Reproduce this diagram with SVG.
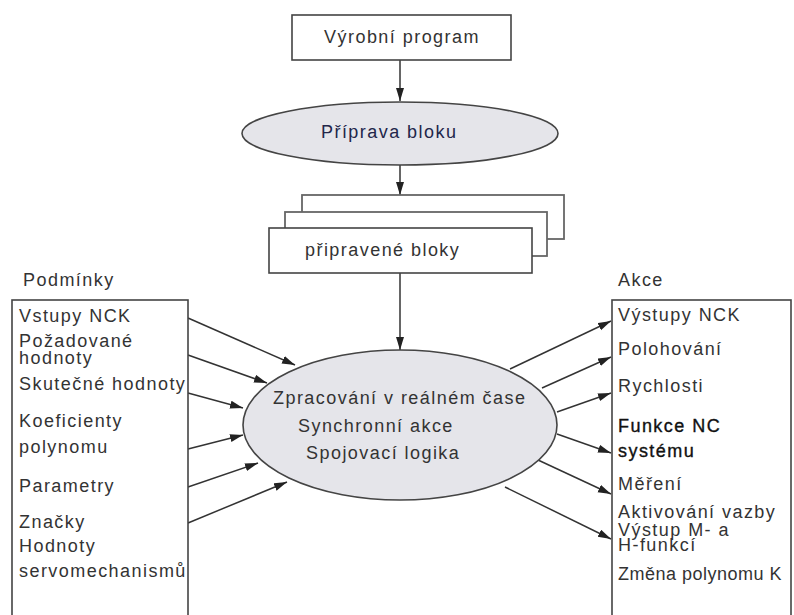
<svg xmlns="http://www.w3.org/2000/svg" width="794" height="615" viewBox="0 0 794 615">
  <style>
    text { font-family: "Liberation Sans", Arial, sans-serif; font-size: 18px; letter-spacing: 1.45px; fill: #333; }
    .c { text-anchor: middle; }
    .strong { fill: #111; stroke: #111; stroke-width: 0.35px; }
    .tight { letter-spacing: 0.5px; }
    .box { fill: #fff; stroke: #444; stroke-width: 1.6; }
    .stack { fill: #fff; stroke: #666; stroke-width: 1.8; }
    .oval { fill: #e5e5ea; stroke: #444; stroke-width: 1.6; }
    .link { fill: none; stroke: #333; stroke-width: 1.5; marker-end: url(#head); }
  </style>
  <defs>
    <marker id="head" markerUnits="userSpaceOnUse" markerWidth="14" markerHeight="10" refX="13" refY="4" orient="auto">
      <path d="M0,0 L13,4 L0,8 Z" fill="#222"/>
    </marker>
  </defs>
  <rect width="794" height="615" fill="#fff"/>

  <!-- connectors -->
  <g id="connectors">
    <line class="link" x1="400" y1="60" x2="400" y2="101"/>
    <line class="link" x1="400" y1="165" x2="400" y2="195"/>
    <line class="link" x1="400" y1="273" x2="400" y2="350"/>
    <!-- conditions into processing -->
    <line class="link" x1="188" y1="318" x2="295" y2="365"/>
    <line class="link" x1="188" y1="355" x2="267" y2="383"/>
    <line class="link" x1="188" y1="393" x2="243" y2="408"/>
    <line class="link" x1="188" y1="449" x2="243" y2="435"/>
    <line class="link" x1="188" y1="487" x2="258" y2="463"/>
    <line class="link" x1="188" y1="523" x2="287" y2="482"/>
    <!-- processing to actions -->
    <line class="link" x1="510" y1="369" x2="611" y2="321"/>
    <line class="link" x1="542" y1="388" x2="611" y2="357"/>
    <line class="link" x1="557" y1="412" x2="611" y2="393"/>
    <line class="link" x1="557" y1="434" x2="611" y2="453"/>
    <line class="link" x1="538" y1="460" x2="611" y2="494"/>
    <line class="link" x1="505" y1="487" x2="611" y2="539"/>
  </g>

  <g id="vyrobni-program">
    <rect class="box" x="292" y="15" width="219" height="45"/>
    <text class="c" x="402" y="43">Výrobní program</text>
  </g>

  <g id="priprava-bloku">
    <ellipse class="oval" cx="400" cy="133.5" rx="158" ry="31.5"/>
    <text x="321" y="138" style="fill:#22264a">Příprava bloku</text>
  </g>

  <g id="pripravene-bloky">
    <rect class="stack" x="302" y="195" width="262" height="44"/>
    <rect class="stack" x="285" y="212" width="262" height="44"/>
    <rect class="box" x="269" y="228" width="263" height="45"/>
    <text x="305" y="256">připravené bloky</text>
  </g>

  <g id="zpracovani">
    <ellipse class="oval" cx="400" cy="425" rx="157" ry="75"/>
    <text x="273" y="404">Zpracování v reálném čase</text>
    <text x="298" y="432">Synchronní akce</text>
    <text x="306" y="459">Spojovací logika</text>
  </g>

  <g id="podminky">
    <text x="23" y="286">Podmínky</text>
    <rect class="box" x="12" y="300" width="176" height="330"/>
    <text x="19" y="322">Vstupy NCK</text>
    <text x="19" y="347">Požadované</text>
    <text x="19" y="364">hodnoty</text>
    <text x="19" y="390">Skutečné hodnoty</text>
    <text x="19" y="427">Koeficienty</text>
    <text x="19" y="453">polynomu</text>
    <text x="19" y="492">Parametry</text>
    <text x="19" y="528">Značky</text>
    <text x="19" y="552">Hodnoty</text>
    <text x="19" y="577">servomechanismů</text>
  </g>

  <g id="akce">
    <text x="618" y="286">Akce</text>
    <rect class="box" x="612" y="300" width="179" height="330"/>
    <text x="618" y="321">Výstupy NCK</text>
    <text x="618" y="355">Polohování</text>
    <text x="618" y="392">Rychlosti</text>
    <text class="strong" x="618" y="432">Funkce NC</text>
    <text class="strong" x="618" y="457">systému</text>
    <text x="618" y="490">Měření</text>
    <text x="618" y="518">Aktivování vazby</text>
    <text x="618" y="536">Výstup M- a</text>
    <text x="618" y="551">H-funkcí</text>
    <text class="tight" x="618" y="580">Změna polynomu K</text>
  </g>
</svg>
